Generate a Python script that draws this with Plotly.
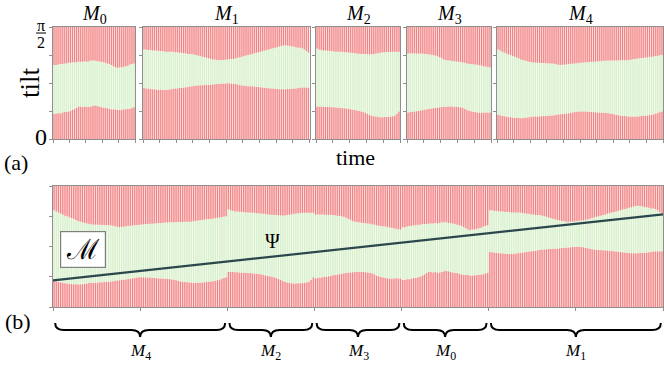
import plotly.graph_objects as go

# ---------------- data (tilt as a fraction of pi/2) ----------------
panel_names = ["M0", "M1", "M2", "M3", "M4"]

upper_M0 = [0.66, 0.66, 0.665, 0.67, 0.67, 0.675, 0.675, 0.68, 0.68, 0.685,
            0.685, 0.685, 0.69, 0.69, 0.69, 0.695, 0.69, 0.695, 0.70, 0.70,
            0.70, 0.695, 0.695, 0.69, 0.685, 0.68, 0.675, 0.67, 0.66, 0.65,
            0.64, 0.635, 0.64, 0.64, 0.645, 0.65, 0.655, 0.665, 0.67, 0.675]
lower_M0 = [0.225, 0.225, 0.23, 0.23, 0.235, 0.24, 0.24, 0.245, 0.25, 0.26,
            0.27, 0.28, 0.29, 0.29, 0.285, 0.29, 0.285, 0.285, 0.29, 0.295,
            0.30, 0.295, 0.29, 0.285, 0.28, 0.28, 0.275, 0.27, 0.265, 0.265,
            0.265, 0.26, 0.26, 0.262, 0.265, 0.265, 0.268, 0.27, 0.278, 0.284]

upper_M1 = [0.80, 0.80, 0.795, 0.795, 0.79, 0.79, 0.79, 0.785, 0.785, 0.785,
            0.78, 0.78, 0.78, 0.78, 0.78, 0.775, 0.775, 0.77, 0.77, 0.765,
            0.765, 0.76, 0.76, 0.76, 0.755, 0.75, 0.745, 0.74, 0.735, 0.73,
            0.725, 0.72, 0.715, 0.71, 0.71, 0.705, 0.705, 0.704, 0.705, 0.708,
            0.71, 0.712, 0.715, 0.715, 0.72, 0.725, 0.73, 0.735, 0.74, 0.745,
            0.75, 0.755, 0.76, 0.765, 0.77, 0.775, 0.78, 0.785, 0.79, 0.795,
            0.80, 0.805, 0.81, 0.815, 0.82, 0.825, 0.83, 0.835, 0.837, 0.835,
            0.83, 0.825, 0.825, 0.82, 0.815, 0.815, 0.81, 0.80, 0.785, 0.77]
lower_M1 = [0.455, 0.452, 0.45, 0.448, 0.445, 0.445, 0.442, 0.44, 0.44, 0.438,
            0.438, 0.44, 0.442, 0.445, 0.448, 0.45, 0.452, 0.455, 0.458, 0.46,
            0.462, 0.465, 0.468, 0.472, 0.475, 0.476, 0.478, 0.48, 0.48, 0.482,
            0.482, 0.483, 0.485, 0.487, 0.488, 0.49, 0.492, 0.494, 0.495, 0.496,
            0.497, 0.497, 0.496, 0.494, 0.49, 0.486, 0.482, 0.478, 0.475, 0.473,
            0.472, 0.47, 0.47, 0.468, 0.466, 0.464, 0.462, 0.46, 0.458, 0.456,
            0.454, 0.452, 0.45, 0.448, 0.446, 0.445, 0.444, 0.444, 0.445, 0.446,
            0.447, 0.448, 0.45, 0.452, 0.455, 0.458, 0.46, 0.46, 0.46, 0.46]

upper_M2 = [0.807, 0.80, 0.795, 0.79, 0.79, 0.788, 0.785, 0.785, 0.782, 0.78,
            0.78, 0.778, 0.778, 0.775, 0.775, 0.772, 0.77, 0.768, 0.765, 0.763,
            0.762, 0.76, 0.76, 0.758, 0.757, 0.757, 0.757, 0.76, 0.763, 0.766,
            0.77, 0.772, 0.775, 0.776, 0.777, 0.778, 0.778, 0.778, 0.778, 0.778]
lower_M2 = [0.29, 0.29, 0.29, 0.288, 0.288, 0.286, 0.285, 0.284, 0.283, 0.282,
            0.28, 0.278, 0.276, 0.274, 0.272, 0.27, 0.266, 0.262, 0.258, 0.254,
            0.25, 0.246, 0.24, 0.232, 0.224, 0.215, 0.207, 0.203, 0.2, 0.197,
            0.195, 0.195, 0.196, 0.197, 0.198, 0.2, 0.204, 0.21, 0.225, 0.246]

upper_M3 = [0.763, 0.765, 0.765, 0.764, 0.763, 0.763, 0.763, 0.762, 0.76, 0.758,
            0.755, 0.752, 0.75, 0.745, 0.738, 0.73, 0.72, 0.71, 0.705, 0.702,
            0.70, 0.697, 0.695, 0.692, 0.69, 0.688, 0.684, 0.68, 0.675, 0.672,
            0.67, 0.668, 0.665, 0.662, 0.658, 0.654, 0.65, 0.647, 0.643, 0.639]
lower_M3 = [0.237, 0.24, 0.242, 0.245, 0.248, 0.251, 0.254, 0.258, 0.262, 0.265,
            0.268, 0.272, 0.275, 0.278, 0.281, 0.284, 0.286, 0.288, 0.289, 0.29,
            0.29, 0.29, 0.289, 0.288, 0.286, 0.283, 0.278, 0.27, 0.26, 0.254,
            0.248, 0.243, 0.24, 0.237, 0.236, 0.236, 0.236, 0.237, 0.237, 0.237]

upper_M4 = [0.80, 0.79, 0.78, 0.772, 0.763, 0.755, 0.75, 0.742, 0.735, 0.728,
            0.72, 0.71, 0.705, 0.70, 0.695, 0.69, 0.687, 0.683, 0.682, 0.68,
            0.68, 0.679, 0.678, 0.677, 0.676, 0.675, 0.675, 0.672, 0.668, 0.664,
            0.66, 0.662, 0.664, 0.667, 0.67, 0.672, 0.674, 0.675, 0.677, 0.679,
            0.681, 0.683, 0.685, 0.686, 0.688, 0.689, 0.69, 0.692, 0.694, 0.695,
            0.697, 0.698, 0.699, 0.70, 0.70, 0.701, 0.702, 0.702, 0.703, 0.703,
            0.704, 0.704, 0.704, 0.706, 0.708, 0.711, 0.714, 0.717, 0.72, 0.723,
            0.725, 0.727, 0.728, 0.731, 0.734, 0.737, 0.74, 0.743, 0.747, 0.75]
lower_M4 = [0.216, 0.212, 0.208, 0.204, 0.2, 0.197, 0.195, 0.192, 0.19, 0.188,
            0.187, 0.186, 0.187, 0.189, 0.192, 0.195, 0.198, 0.20, 0.201, 0.202,
            0.203, 0.204, 0.205, 0.206, 0.207, 0.208, 0.21, 0.213, 0.216, 0.219,
            0.221, 0.223, 0.225, 0.228, 0.231, 0.234, 0.237, 0.24, 0.243, 0.245,
            0.246, 0.246, 0.245, 0.244, 0.243, 0.242, 0.24, 0.239, 0.237, 0.236,
            0.235, 0.234, 0.233, 0.231, 0.228, 0.225, 0.221, 0.217, 0.213, 0.209,
            0.207, 0.205, 0.203, 0.202, 0.201, 0.20, 0.20, 0.201, 0.203, 0.205,
            0.207, 0.209, 0.21, 0.213, 0.217, 0.222, 0.227, 0.233, 0.24, 0.246]

upper = {"M0": upper_M0, "M1": upper_M1, "M2": upper_M2, "M3": upper_M3, "M4": upper_M4}
lower = {"M0": lower_M0, "M1": lower_M1, "M2": lower_M2, "M3": lower_M3, "M4": lower_M4}

strip_order = ["M4", "M2", "M3", "M0", "M1"]
psi_start, psi_end = 0.22, 0.765
y_tick_vals = [0, 0.25, 0.5, 0.75, 1]

# ---------------- layout helpers ----------------
W, H = 664, 367
RED = "rgba(242,128,128,0.99)"
RED_PALE = "rgba(251,208,208,0.99)"
GREEN = "rgba(214,239,201,0.99)"
GREEN_PALE = "rgba(238,249,232,0.99)"
FRAME = "#8f8f8f"
SERIF = "Liberation Serif"


def fx(p):
    return p / W


def fy(p):
    return 1 - p / H


panel_px = {"M0": (53, 135), "M1": (143, 309.5), "M2": (316, 400),
            "M3": (407, 491), "M4": (497, 663)}
top_px = (27, 139)
bot_px_x = (53, 663)
bot_px_y = (186, 307)

fig = go.Figure()
layout = {}


def add_stack(lo, up, ax_i):
    xs = list(range(len(lo)))
    xa, ya = f"x{ax_i}", f"y{ax_i}"
    mid = [u - l for u, l in zip(up, lo)]
    top = [1 - u for u in up]
    for width, red, green in ((1.0, RED_PALE, GREEN_PALE), (0.5, RED, GREEN)):
        for ys, base, col in ((lo, [0] * len(lo), red), (mid, lo, green), (top, up, red)):
            fig.add_trace(go.Bar(x=xs, y=ys, base=base, width=width,
                                 marker=dict(color=col, line_width=0),
                                 xaxis=xa, yaxis=ya, showlegend=False, hoverinfo="skip"))


def axis_style(n, xdom, ydom, i, xtick_step):
    xkey = "xaxis" if i == 1 else f"xaxis{i}"
    ykey = "yaxis" if i == 1 else f"yaxis{i}"
    layout[xkey] = dict(domain=xdom, anchor=f"y{i}", range=[-0.5, n - 0.5],
                        showline=True, mirror=True, linecolor=FRAME, linewidth=1.2,
                        ticks="outside", ticklen=3, tickcolor=FRAME, tickwidth=1,
                        tickvals=[-0.5 + k * xtick_step for k in range(int(n / xtick_step) + 1)],
                        showticklabels=False, showgrid=False, zeroline=False, fixedrange=True)
    layout[ykey] = dict(domain=ydom, anchor=f"x{i}", range=[0, 1],
                        showline=True, mirror=True, linecolor=FRAME, linewidth=1.2,
                        ticks="outside", ticklen=3, tickcolor=FRAME, tickwidth=1,
                        tickvals=y_tick_vals, showticklabels=False,
                        showgrid=False, zeroline=False, fixedrange=True)


def note(text, x, y, size, xref="paper", family=SERIF, **kw):
    d = dict(text=text, x=x, y=y, xref=xref, yref="paper", showarrow=False,
             xanchor="center", yanchor="middle",
             font=dict(family=family, size=size, color="black"))
    d.update(kw)
    return d


annotations = []
for i, name in enumerate(panel_names, start=1):
    lo, up = lower[name], upper[name]
    add_stack(lo, up, i)
    x0, x1 = panel_px[name]
    axis_style(len(lo), [fx(x0), fx(x1)], [fy(top_px[1]), fy(top_px[0])], i, 8)
    annotations.append(note(f"<i>M</i><sub>{name[1]}</sub>", fx((x0 + x1) / 2), fy(14), 20))

# bottom strip
strip_lo, strip_up, seg_bounds = [], [], []
for name in strip_order:
    start = len(strip_lo)
    strip_lo += lower[name]
    strip_up += upper[name]
    seg_bounds.append((name, start, len(strip_lo)))
N = len(strip_lo)
add_stack(strip_lo, strip_up, 6)
axis_style(N, [fx(bot_px_x[0]), fx(bot_px_x[1])], [fy(bot_px_y[1]), fy(bot_px_y[0])], 6, 40)

fig.add_trace(go.Scatter(x=[-0.5, N - 0.5], y=[psi_start, psi_end], mode="lines",
                         line=dict(color="#2b474c", width=2.2), xaxis="x6", yaxis="y6",
                         showlegend=False, hoverinfo="skip"))

# braces below strip
shapes = []
yt, ym, yb = fy(323), fy(330), fy(337)
for name, s, e in seg_bounds:
    a, b = s - 0.5 + 1.0, e - 0.5 - 1.0
    m = (a + b) / 2
    d = 4
    path = (f"M{a},{yt} Q{a},{ym} {a + d},{ym} L{m - d},{ym} Q{m},{ym} {m},{yb} "
            f"Q{m},{ym} {m + d},{ym} L{b - d},{ym} Q{b},{ym} {b},{yt}")
    shapes.append(dict(type="path", path=path, xref="x6", yref="paper",
                       line=dict(color="black", width=2)))
    annotations.append(note(f"<i>M</i><sub>{name[1]}</sub>", m, fy(352), 17, xref="x6"))

# pi/2 fraction label and 0
annotations.append(note("π", fx(41), fy(25), 16))
annotations.append(note("2", fx(41), fy(42), 16))
shapes.append(dict(type="line", x0=fx(36), x1=fx(46), y0=fy(33), y1=fy(33),
                   xref="paper", yref="paper", line=dict(color="black", width=1)))
annotations.append(note("0", fx(41), fy(137), 24))

annotations += [
    note("tilt", fx(30), fy(83), 27, textangle=-90),
    note("time", fx(355), fy(157), 22),
    note("(a)", fx(16), fy(162), 22),
    note("(b)", fx(18), fy(321), 22),
    note("Ψ", fx(272), fy(241), 20),
    note("ℳ", fx(83), fy(250), 28, family="DejaVu Serif",
         bgcolor="white", bordercolor="#808080", borderwidth=1.2, borderpad=3,
         width=38, height=29),
]

fig.update_layout(width=W, height=H, margin=dict(l=0, r=0, t=0, b=0),
                  paper_bgcolor="white", plot_bgcolor="white",
                  barmode="overlay",
                  annotations=annotations, shapes=shapes, **layout)
fig.write_html("out.html", config={"displayModeBar": False},
               post_script="document.body.style.margin='0';")
